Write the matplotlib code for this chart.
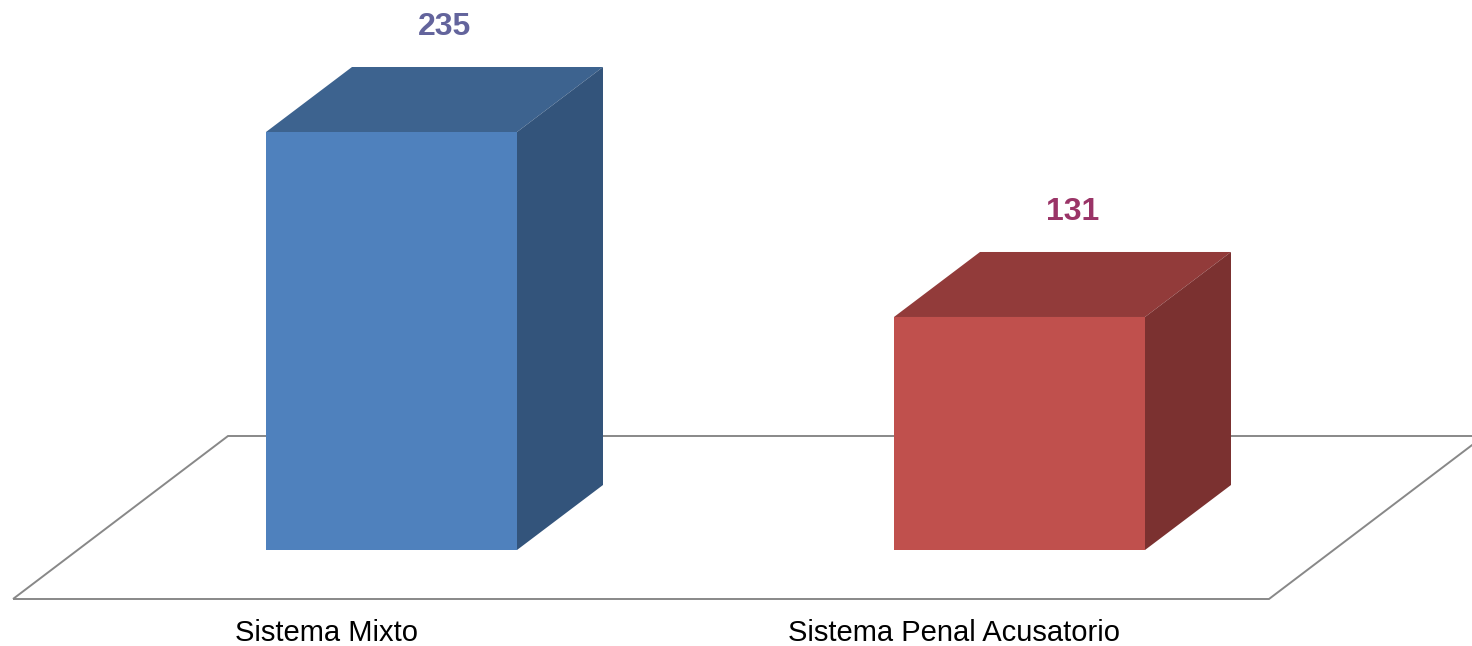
import matplotlib.pyplot as plt
from matplotlib.patches import Polygon

plt.rcParams['font.family'] = ['Liberation Sans', 'DejaVu Sans']

# chart data
categories = ["Sistema Mixto", "Sistema Penal Acusatorio"]
values = [235, 131]
front_colors = ["#4F81BD", "#C0504D"]
top_colors = ["#3D638F", "#923B3A"]
side_colors = ["#33547B", "#7B3130"]
label_colors = ["#63649C", "#9A3467"]

# layout (x in pixels, y in value units)
W, H = 1472, 646
base_px = 550                 # pixel row of value 0
k = 418 / 235                 # pixels per unit
bar_left = [266, 894]
bar_w = 251
dx = 86                       # depth offset in x (px)
dy = 65 / k                   # depth offset in y (units)
floor_front = -(599 - base_px) / k
floor_back = (base_px - 436) / k
floor_shift = 215

fig = plt.figure(figsize=(W / 100, H / 100), dpi=100)
ax = fig.add_axes([0, 0, 1, 1])
ax.set_xlim(0, W)
ax.set_ylim(-(H - base_px) / k, base_px / k)
ax.axis('off')

# floor outline
floor = Polygon([(13, floor_front), (1269, floor_front),
                 (1269 + floor_shift, floor_back), (13 + floor_shift, floor_back)],
                closed=True, fill=False, edgecolor='#888888', linewidth=1.4, zorder=1)
ax.add_patch(floor)

for i, v in enumerate(values):
    x0 = bar_left[i]
    x1 = x0 + bar_w
    ax.bar(x0, v, width=bar_w, align='edge', color=front_colors[i], zorder=3)
    top = Polygon([(x0, v), (x1, v), (x1 + dx, v + dy), (x0 + dx, v + dy)],
                  closed=True, facecolor=top_colors[i], edgecolor='none', zorder=3)
    side = Polygon([(x1, 0), (x1 + dx, dy), (x1 + dx, v + dy), (x1, v)],
                   closed=True, facecolor=side_colors[i], edgecolor='none', zorder=3)
    ax.add_patch(top)
    ax.add_patch(side)

    cx = x0 + bar_w / 2
    ax.text(cx + dx / 2 + 10, v + dy + 40 / k, str(v), ha='center', va='center',
            fontsize=23, fontweight='bold', color=label_colors[i])
    # category label sits on the front edge of the floor
    ax.text(cx - 65, -(633 - base_px) / k, categories[i], ha='center', va='center',
            fontsize=21, color='black')

fig.savefig("out.png", dpi=100, facecolor='white')
